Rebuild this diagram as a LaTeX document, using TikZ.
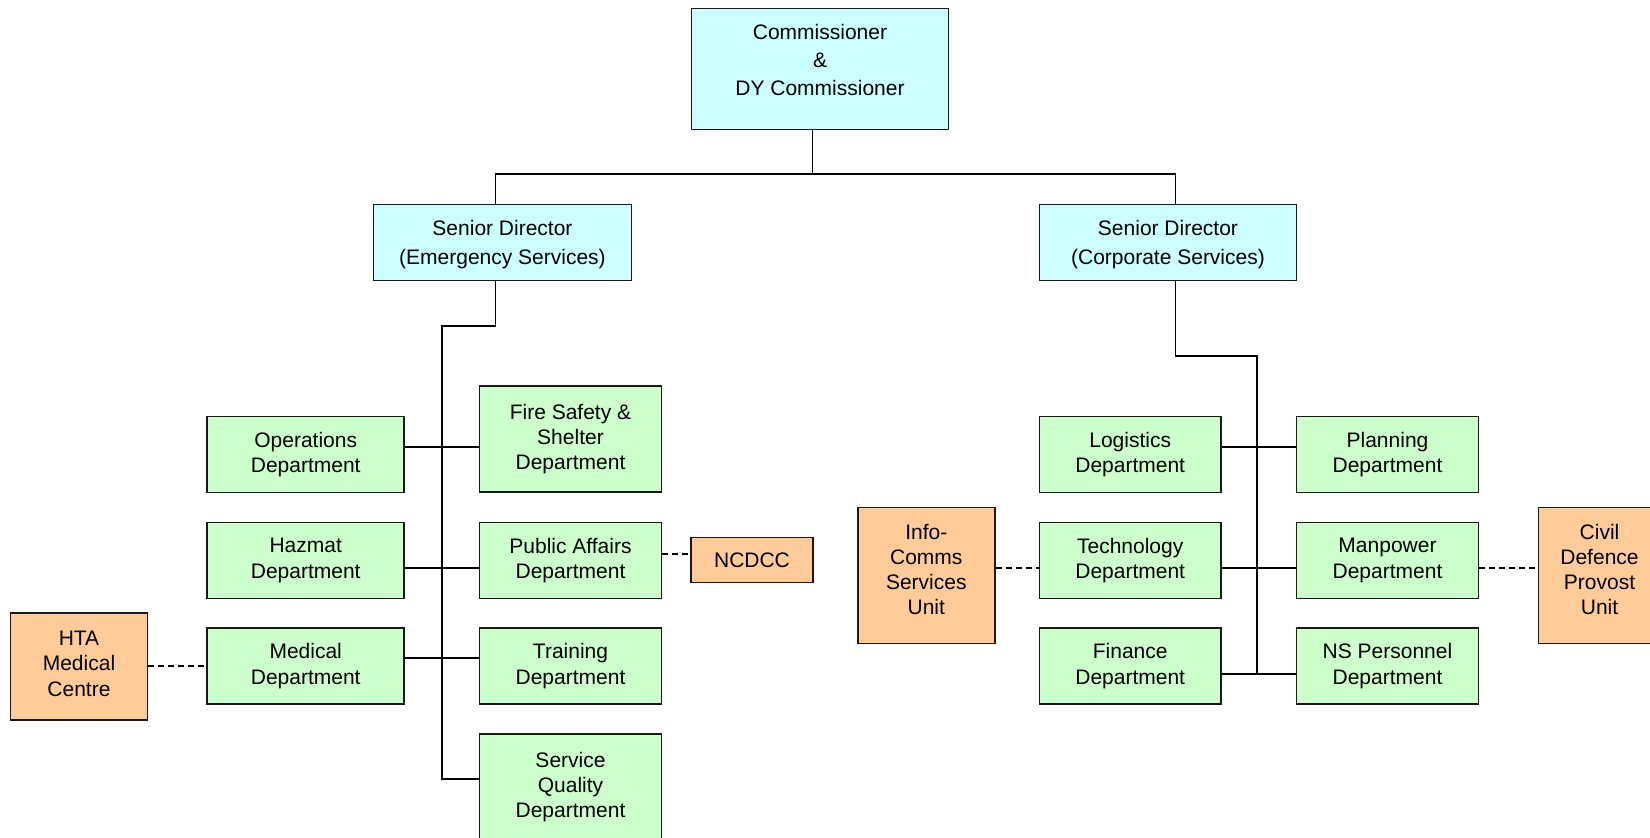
\documentclass[tikz,border=0pt]{standalone}
\usepackage{fontspec}
\setmainfont{Liberation Sans}
\usepackage{tikz}
\usetikzlibrary{positioning,calc}
\usepackage{xcolor}

\definecolor{bossblue}{HTML}{CCFFFF}
\definecolor{deptgreen}{HTML}{CCFFCC}
\definecolor{unitorange}{HTML}{FFCC99}

\tikzset{
  box/.style={draw=black!90, line width=1.6pt, align=center, inner sep=0pt,
              font=\fontsize{21}{25.3}\selectfont},
  boss/.style={box, fill=bossblue, font=\fontsize{21}{28.4}\selectfont},
  dept/.style={box, fill=deptgreen, minimum height=76pt},
  unit/.style={box, fill=unitorange},
  boxtext/.style={align=center, inner sep=0pt, font=\fontsize{21}{25.3}\selectfont},
  link/.style={line width=1.8pt, black},
  dotlink/.style={line width=1.8pt, black, dash pattern=on 6pt off 4pt}
}

\begin{document}
\begin{tikzpicture}[x=1pt, y=-1pt]
                    \useasboundingbox (0,0) rectangle (1650,838);
                    \fill[white] (0,0) rectangle (1650,838);
                    % Top level
                    \node[boss, minimum width=257pt, minimum height=121pt,
                          label={[boxtext, font=\fontsize{21}{28.4}\selectfont, yshift=9pt]center:{Commissioner\\\&\\DY Commissioner}}]
                        (comm) at (820,69) {};
                    \node[boss, minimum width=258pt, minimum height=76pt,
                          label={[boxtext, font=\fontsize{21}{28.4}\selectfont, yshift=-2pt]center:{Senior Director\\(Emergency Services)}}]
                        (sdE) at (502.5,242.5) {};
                    \node[boss, minimum width=257pt, minimum height=76pt,
                          label={[boxtext, font=\fontsize{21}{28.4}\selectfont, yshift=-2pt]center:{Senior Director\\(Corporate Services)}}]
                        (sdC) at (1168,242.5) {};
                    % Emergency services
                    \node[dept, minimum width=197pt] (ops) at (305.7,454.3) {Operations\\Department};
                    \node[dept, minimum width=197pt] (haz) at (305.7,560.5) {Hazmat\\Department};
                    \node[dept, minimum width=197pt] (med) at (305.7,666) {Medical\\Department};
                    \node[dept, minimum width=182pt, minimum height=106pt] (fire) at (570.5,439)
                        {Fire Safety \&\\Shelter\\Department};
                    \node[dept, minimum width=182pt] (pa) at (570.5,560.5) {Public Affairs\\Department};
                    \node[dept, minimum width=182pt] (trn) at (570.5,666) {Training\\Department};
                    \node[dept, minimum width=182pt, minimum height=106pt] (sq) at (570.5,787)
                        {Service\\Quality\\Department};
                    \node[unit, minimum width=137pt, minimum height=107pt,
                          label={[boxtext, yshift=3pt]center:{HTA\\Medical\\Centre}}]
                        (hta) at (79,666.7) {};
                    \node[unit, minimum width=121.5pt, minimum height=45pt] (ncdcc) at (752,559.8) {NCDCC};
                    % Corporate services
                    \node[dept, minimum width=181.5pt] (log) at (1130.2,454.5) {Logistics\\Department};
                    \node[dept, minimum width=181.5pt] (tech) at (1130.2,560.5) {Technology\\Department};
                    \node[dept, minimum width=181.5pt] (fin) at (1130.2,666) {Finance\\Department};
                    \node[dept, minimum width=182pt] (plan) at (1387.5,454.5) {Planning\\Department};
                    \node[dept, minimum width=182pt] (man) at (1387.5,560.5) {Manpower\\Department};
                    \node[dept, minimum width=182pt] (nsp) at (1387.5,666) {NS Personnel\\Department};
                    \node[unit, minimum width=137pt, minimum height=136pt,
                          label={[boxtext, yshift=6pt]center:{Info-\\Comms\\Services\\Unit}}]
                        (ics) at (926.3,575.5) {};
                    \node[unit, minimum width=122pt, minimum height=136pt,
                          label={[boxtext, yshift=6pt]center:{Civil\\Defence\\Provost\\Unit}}]
                        (cdp) at (1599.5,575.5) {};
                    % Trunk points
                    \coordinate (hub) at (812.5,173.6);
                    \coordinate (eDrop) at (495.5,173.6);
                    \coordinate (cDrop) at (1175.4,173.6);
                    \coordinate (eBend) at (441.7,325.7);
                    \coordinate (eEnd) at (441.7,779.3);
                    \coordinate (cBend) at (1256.7,356);
                    \coordinate (cEnd) at (1256.7,673.7);
                    % Top connectors
                    \draw[link] (comm.south -| hub) -- (hub);
                    \draw[link] (sdE.north -| eDrop) -- (eDrop) -- (cDrop) -- (sdC.north -| cDrop);
                    % Emergency trunk
                    \draw[link] (sdE.south -| eDrop) |- (eBend) -- (eEnd) -- (sq.west |- eEnd);
                    \draw[link] (ops.east |- 0,446.7) -- (fire.west |- 0,446.7);
                    \draw[link] (haz.east |- 0,568.3) -- (pa.west |- 0,568.3);
                    \draw[link] (med.east |- 0,658.3) -- (trn.west |- 0,658.3);
                    % Corporate trunk
                    \draw[link] (sdC.south -| cDrop) |- (cBend) -- (cEnd);
                    \draw[link] (log.east |- 0,446.7) -- (plan.west |- 0,446.7);
                    \draw[link] (tech.east |- 0,567.7) -- (man.west |- 0,567.7);
                    \draw[link] (fin.east |- cEnd) -- (nsp.west |- cEnd);
                    % Dashed links
                    \draw[dotlink] (pa.east |- 0,554) -- (ncdcc.west |- 0,554);
                    \draw[dotlink] (hta.east |- 0,665.7) -- (med.west |- 0,665.7);
                    \draw[dotlink] (ics.east |- 0,567.7) -- (tech.west |- 0,567.7);
                    \draw[dotlink] (man.east |- 0,568.3) -- (cdp.west |- 0,568.3);
                \end{tikzpicture}
\end{document}
